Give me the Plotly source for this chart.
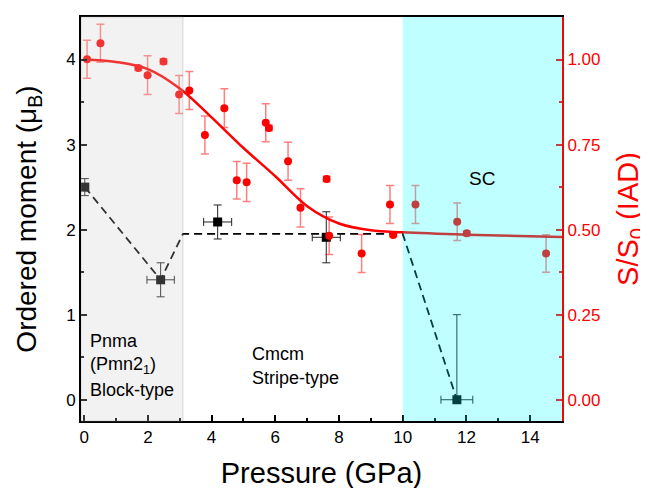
import plotly.graph_objects as go

# S/S0 (IAD) data (right axis)
p_iad = [0.09, 0.51, 1.70, 1.99, 2.49, 2.98, 3.30, 3.79, 4.40, 4.79, 5.10, 5.70,
         5.80, 6.40, 6.79, 7.61, 7.69, 8.71, 9.60, 9.70, 10.40, 11.71, 12.01, 14.50]
s_iad = [1.001, 1.048, 0.975, 0.954, 0.994, 0.897, 0.909, 0.778, 0.857, 0.645, 0.639, 0.814,
         0.799, 0.701, 0.564, 0.649, 0.482, 0.430, 0.574, 0.484, 0.574, 0.523, 0.489, 0.430]
s_err = [0.056, 0.056, 0.007, 0.057, 0.008, 0.056, 0.056, 0.056, 0.057, 0.055, 0.056, 0.056,
         0.008, 0.056, 0.056, 0.008, 0.055, 0.056, 0.056, 0.005, 0.056, 0.055, 0.007, 0.055]

# fit curve
p_fit = [0, 1, 2, 3, 4, 5, 6, 7, 8, 9, 10, 12, 15]
s_fit = [1.0, 0.993, 0.972, 0.915, 0.83, 0.74, 0.657, 0.569, 0.518, 0.498, 0.492, 0.485, 0.478]

# ordered moment (left axis)
p_mom = [0.02, 2.40, 4.19, 7.60, 11.70]
m_mom = [2.50, 1.41, 2.09, 1.91, 0.0]
m_err_plus = [0.1, 0.2, 0.2, 0.3, 1.0]
m_err_minus = [0.1, 0.2, 0.2, 0.3, 0.0]
p_err = [0.0, 0.43, 0.44, 0.44, 0.5]

# dashed guide line
p_guide = [0.02, 2.40, 3.10, 10.0, 11.70]
m_guide = [2.50, 1.41, 1.95, 1.95, 0.0]

FONT = "Liberation Sans, Arial, sans-serif"
RED = "#ff0000"

fig = go.Figure()

fig.add_trace(go.Scatter(
    x=p_guide, y=m_guide, mode="lines",
    line=dict(color="black", width=1.8, dash="8px,5px"),
    showlegend=False, hoverinfo="skip"))

fig.add_trace(go.Scatter(
    x=p_mom, y=m_mom, mode="markers",
    marker=dict(symbol="square", size=9, color="black"),
    error_y=dict(type="data", symmetric=False, array=m_err_plus, arrayminus=m_err_minus,
                 color="#222222", thickness=1, width=4),
    error_x=dict(type="data", array=p_err, color="#222222", thickness=1, width=4),
    showlegend=False))

fig.add_trace(go.Scatter(
    x=p_fit, y=s_fit, mode="lines", yaxis="y2",
    line=dict(color=RED, width=2.5, shape="spline", smoothing=1.0),
    showlegend=False, hoverinfo="skip"))

fig.add_trace(go.Scatter(
    x=p_iad, y=s_iad, mode="markers", yaxis="y2",
    marker=dict(symbol="circle", size=8, color=RED),
    error_y=dict(type="data", array=s_err, color="rgba(255,0,0,0.5)", thickness=1.5, width=4),
    showlegend=False))

# shaded phase regions (drawn over, semi-transparent)
fig.add_shape(type="rect", xref="x", yref="paper", x0=-0.1, x1=3.1, y0=0, y1=1,
              fillcolor="rgba(204,204,204,0.25)", line=dict(width=1, color="rgba(150,150,150,0.35)"),
              layer="above")
fig.add_shape(type="rect", xref="x", yref="paper", x0=10.0, x1=15.0, y0=0, y1=1,
              fillcolor="rgba(0,255,255,0.25)", line=dict(width=0),
              layer="above")

ann_font = dict(family=FONT, size=18, color="black")
for txt, x, y in [("Pnma", 0.12, 0.687), ("(Pmn2<sub>1</sub>)", 0.12, 0.40), ("Block-type", 0.12, 0.109),
                  ("Cmcm", 5.19, 0.539), ("Stripe-type", 5.19, 0.258)]:
    fig.add_annotation(x=x, y=y, xref="x", yref="y", text=txt, showarrow=False,
                       xanchor="left", yanchor="middle", font=ann_font)
fig.add_annotation(x=12.5, y=2.6, xref="x", yref="y", text="SC", showarrow=False,
                   xanchor="center", yanchor="middle", font=dict(family=FONT, size=19, color="black"))

fig.update_layout(
    width=648, height=488,
    margin=dict(l=73, r=94, t=7, b=75),
    paper_bgcolor="white", plot_bgcolor="white",
    font=dict(family=FONT, color="black"),
    xaxis=dict(
        range=[-0.1, 15], dtick=2, tick0=0,
        ticks="inside", ticklen=6, tickwidth=1.5, tickcolor="black",
        minor=dict(ticks="inside", ticklen=3, dtick=1, tickcolor="black"),
        showline=True, linewidth=2, linecolor="black", mirror=True,
        showgrid=False, zeroline=False,
        tickfont=dict(family=FONT, size=17, color="black"),
        title=dict(text="Pressure (GPa)", font=dict(family=FONT, size=29, color="black"), standoff=16),
    ),
    yaxis=dict(
        range=[-0.25, 4.5], dtick=1, tick0=0,
        ticks="inside", ticklen=6, tickwidth=1.5, tickcolor="black",
        minor=dict(ticks="inside", ticklen=3, dtick=0.5, tickcolor="black"),
        showline=True, linewidth=2, linecolor="black",
        showgrid=False, zeroline=False,
        tickfont=dict(family=FONT, size=17, color="black"),
        title=dict(text="Ordered moment (μ<sub>B</sub>)", font=dict(family=FONT, size=28, color="black"), standoff=21),
    ),
    yaxis2=dict(
        range=[-0.0625, 1.125], dtick=0.25, tick0=0, tickformat=".2f",
        overlaying="y", side="right",
        ticks="inside", ticklen=6, tickwidth=1.5, tickcolor=RED,
        minor=dict(ticks="inside", ticklen=3, dtick=0.125, tickcolor=RED),
        showline=True, linewidth=2, linecolor=RED,
        showgrid=False, zeroline=False,
        tickfont=dict(family=FONT, size=17, color=RED),
        title=dict(text="S/S<sub>0</sub> (IAD)", font=dict(family=FONT, size=29, color=RED), standoff=18),
    ),
)

fig.write_html("out.html")
